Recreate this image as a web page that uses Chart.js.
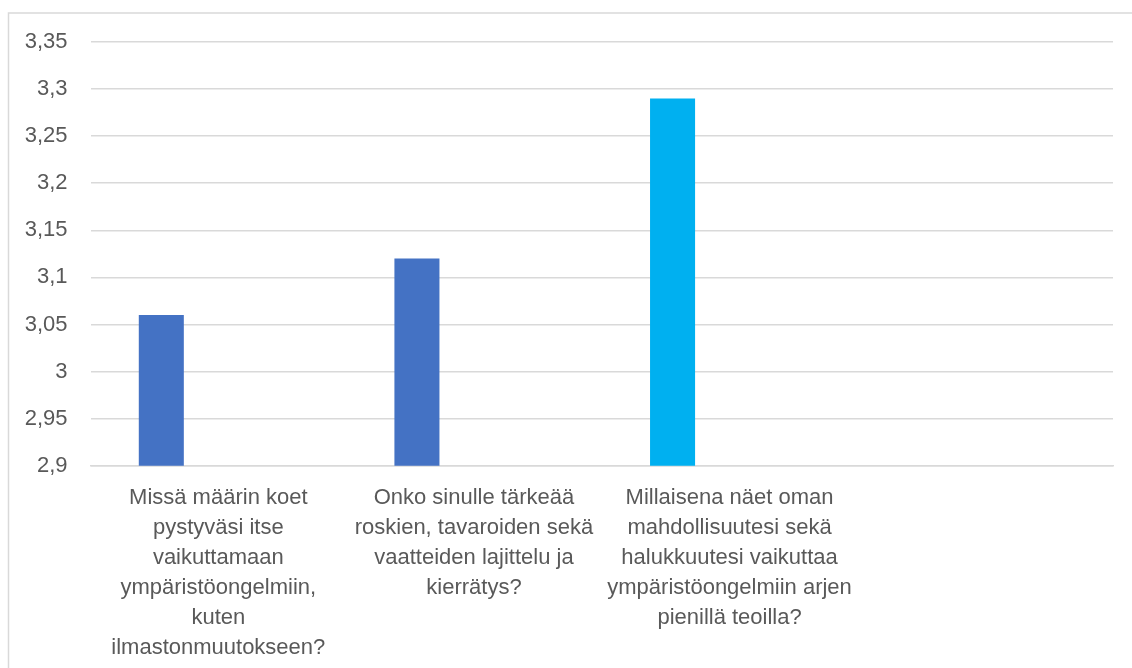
<!DOCTYPE html>
<html>
<head>
<meta charset="utf-8">
<script src="https://cdn.jsdelivr.net/npm/chart.js@4"></script>
<style>
  html, body { margin: 0; padding: 0; background: #ffffff; }
  #wrap { position: relative; width: 1132px; height: 668px; }
  canvas { display: block; }
</style>
</head>
<body>
<div id="wrap"><canvas id="c" width="1132" height="668"></canvas></div>
<script>
const categories = [
  ["Missä määrin koet", "pystyväsi itse", "vaikuttamaan", "ympäristöongelmiin,", "kuten", "ilmastonmuutokseen?"],
  ["Onko sinulle tärkeää", "roskien, tavaroiden sekä", "vaatteiden lajittelu ja", "kierrätys?"],
  ["Millaisena näet oman", "mahdollisuutesi sekä", "halukkuutesi vaikuttaa", "ympäristöongelmiin arjen", "pienillä teoilla?"],
  ""
];
const seriesValues = [3.06, 3.12, 3.29, null];
const emptySeriesA = [null, null, null, null];
const emptySeriesB = [null, null, null, null];
const barColors = ["#4472C4", "#4472C4", "#00B0F0", "#4472C4"];
const yMin = 2.9, yMax = 3.35, yStep = 0.05;

const framePlugin = {
  id: 'frame',
  beforeDraw(chart) {
    const ctx = chart.ctx;
    ctx.save();
    ctx.strokeStyle = '#d9d9d9';
    ctx.lineWidth = 1.5;
    ctx.strokeRect(8.5, 13, 1400, 1000);
    ctx.restore();
  }
};

const FONT = { family: "'Liberation Sans', Arial, sans-serif", size: 22 };

new Chart(document.getElementById('c'), {
  type: 'bar',
  data: {
    labels: categories,
    datasets: [
      { data: seriesValues, backgroundColor: barColors, borderWidth: 0,
        barPercentage: 0.79, categoryPercentage: 0.669 },
      { data: emptySeriesA, backgroundColor: '#ED7D31', borderWidth: 0,
        barPercentage: 0.79, categoryPercentage: 0.669 },
      { data: emptySeriesB, backgroundColor: '#A5A5A5', borderWidth: 0,
        barPercentage: 0.79, categoryPercentage: 0.669 }
    ]
  },
  options: {
    responsive: false,
    animation: false,
    devicePixelRatio: 1,
    layout: { padding: { left: 0, right: 19, top: 42, bottom: 0 } },
    plugins: { legend: { display: false }, tooltip: { enabled: false } },
    scales: {
      x: {
        afterFit(scale) { scale.height = 202.3; },
        grid: { display: false, drawTicks: false },
        border: { display: true, color: '#d9d9d9', width: 1.5 },
        ticks: { color: '#595959', font: { ...FONT, lineHeight: 30 / 22 }, padding: 17, maxRotation: 0, autoSkip: false }
      },
      y: {
        min: yMin, max: yMax,
        afterFit(scale) { scale.width = 90.5; },
        afterBuildTicks(scale) {
          const t = [];
          for (let v = yMin; v <= yMax + 1e-9; v += yStep) t.push({ value: Math.round(v * 100) / 100 });
          scale.ticks = t;
        },
        grid: { color: '#d9d9d9', lineWidth: 1.5, drawTicks: false },
        border: { display: false },
        ticks: {
          color: '#595959', font: FONT, padding: 23,
          callback: (v) => String(Math.round(v * 100) / 100).replace('.', ',')
        }
      }
    }
  },
  plugins: [framePlugin]
});
</script>
</body>
</html>
